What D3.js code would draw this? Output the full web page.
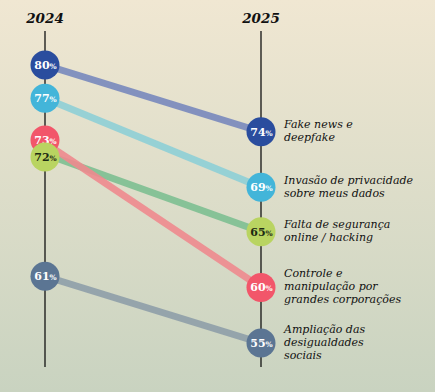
<!DOCTYPE html>
<html>
<head>
<meta charset="utf-8">
<script src="https://cdn.jsdelivr.net/npm/d3@7"></script>
<style>
  body { margin: 0; }
  svg { display: block; }
</style>
</head>
<body>
<div id="chart"></div>
<script>
// data
const years = ["2024", "2025"];
const categories = [
  ["Fake news e", "deepfake"],
  ["Invasão de privacidade", "sobre meus dados"],
  ["Falta de segurança", "online / hacking"],
  ["Controle e", "manipulação por", "grandes corporações"],
  ["Ampliação das", "desigualdades", "sociais"]
];
const values2024 = [80, 77, 72, 73, 61];
const values2025 = [74, 69, 65, 60, 55];
const dotColors = ["#2a4d9e", "#43b5d9", "#b9d461", "#f2566a", "#5b7593"];
const lineColors = ["#7888bd", "#8ecfd6", "#7dbf91", "#ee8a8e", "#8e9fa8"];

const w = 435, h = 392;

const svg = d3.select("#chart")
              .append("svg")
              .attr("width", w)
              .attr("height", h);

const grad = svg.append("defs").append("linearGradient")
                .attr("id", "bg").attr("x1", 0).attr("y1", 0).attr("x2", 0).attr("y2", 1);
grad.append("stop").attr("offset", "0%").attr("stop-color", "#f0e7d2");
grad.append("stop").attr("offset", "100%").attr("stop-color", "#c9d3c0");

svg.append("rect").attr("width", w).attr("height", h).attr("fill", "url(#bg)");

const x = d3.scalePoint().domain(years).range([45, 261]);
const y = d3.scaleLinear().domain([55, 80]).range([343, 65]);

// vertical axes
svg.selectAll(".axis")
   .data(years)
   .enter()
   .append("line")
   .attr("x1", d => x(d)).attr("x2", d => x(d))
   .attr("y1", 31).attr("y2", 367)
   .attr("stroke", "#111").attr("stroke-width", 1.3);

svg.selectAll(".year")
   .data(years)
   .enter()
   .append("text")
   .text(d => d)
   .attr("x", d => x(d))
   .attr("y", 23)
   .attr("text-anchor", "middle")
   .attr("font-family", "DejaVu Serif, serif")
   .attr("font-style", "italic")
   .attr("font-weight", "bold")
   .attr("font-size", 13.5)
   .attr("fill", "#111");

const rows = categories.map((c, i) => ({ label: c, a: values2024[i], b: values2025[i], i: i }));

// slope lines
svg.selectAll(".slope")
   .data(rows)
   .enter()
   .append("line")
   .attr("x1", x("2024")).attr("y1", d => y(d.a))
   .attr("x2", x("2025")).attr("y2", d => y(d.b))
   .attr("stroke", d => lineColors[d.i])
   .attr("stroke-width", 7)
   .attr("stroke-opacity", 0.9);

// spread dots that sit too close together (73 / 72 on the left)
function spread(vals) {
  const pos = vals.map(v => y(v));
  const order = d3.range(vals.length).sort((p, q) => pos[p] - pos[q]);
  for (let k = 1; k < order.length; k++) {
    const a = order[k - 1], b = order[k];
    const gap = pos[b] - pos[a];
    if (gap < 17) {
      const push = (17 - gap) / 2;
      pos[a] -= push; pos[b] += push;
    }
  }
  return pos;
}
const leftY = spread(values2024);

function dot(cx, cy, v, col) {
  const g = svg.append("g");
  g.append("circle").attr("cx", cx).attr("cy", cy).attr("r", 14.5).attr("fill", col);
  const t = g.append("text")
             .attr("x", cx + 0.5).attr("y", cy + 4)
             .attr("text-anchor", "middle")
             .attr("font-family", "DejaVu Serif, serif")
             .attr("font-weight", "bold")
             .attr("fill", col === "#b9d461" ? "#1d2a12" : "#fff");
  t.append("tspan").attr("font-size", 11).text(v);
  t.append("tspan").attr("font-size", 7.5).text("%");
}

// drawn top to bottom so the lower dot sits over the upper one
d3.range(values2024.length)
  .sort((p, q) => leftY[p] - leftY[q])
  .forEach(i => dot(x("2024"), leftY[i], values2024[i], dotColors[i]));
rows.forEach(d => dot(x("2025"), y(d.b), d.b, dotColors[d.i]));

// category labels
const lineH = 13;
const lbl = svg.selectAll(".lbl")
   .data(rows)
   .enter()
   .append("text")
   .attr("x", 284)
   .attr("y", d => y(d.b) + 4 - (d.label.length - 1) * lineH / 2 - 1)
   .attr("font-family", "DejaVu Serif, serif")
   .attr("font-style", "italic")
   .attr("font-size", 11)
   .attr("fill", "#111");

lbl.selectAll("tspan")
   .data(d => d.label)
   .enter()
   .append("tspan")
   .attr("x", 284)
   .attr("dy", (d, i) => i === 0 ? 0 : lineH)
   .text(d => d);
</script>
</body>
</html>
